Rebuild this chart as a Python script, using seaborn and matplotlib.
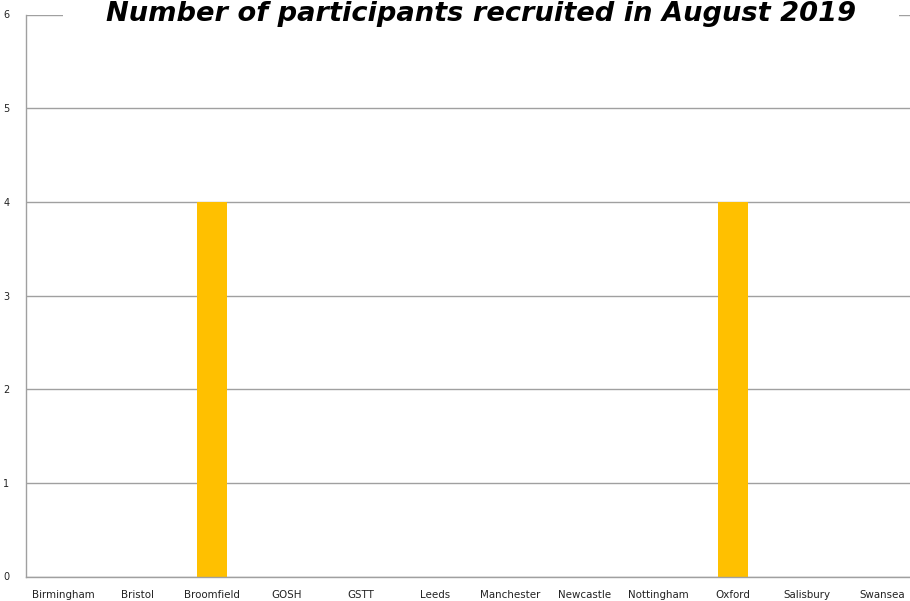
import matplotlib
matplotlib.use("Agg")
import matplotlib.pyplot as plt
import seaborn as sns
import pandas as pd

sites = ["Birmingham", "Bristol", "Broomfield", "GOSH", "GSTT", "Leeds",
         "Manchester", "Newcastle", "Nottingham", "Oxford", "Salisbury", "Swansea"]
participants = [0, 0, 4, 0, 0, 0, 0, 0, 0, 4, 0, 0]
title = "Number of participants recruited in August 2019"

sns.set_style("white")
plt.rcParams['font.family'] = ['DejaVu Sans']

df = pd.DataFrame({"site": sites, "n": participants})

fig = plt.figure(figsize=(9.10, 6.01), dpi=100)
ax = fig.add_axes([26/910, (601-576.5)/601, (919-26)/910, (576.5-14.5)/601])
sns.barplot(data=df, x="site", y="n", color="#FFC000", width=0.4, ax=ax,
            saturation=1, order=sites, edgecolor="none", linewidth=0)

ax.set_ylim(0, 6)
ax.set_xlim(-0.5, len(sites) - 0.5)
ax.set_yticks(range(0, 7))
ax.yaxis.grid(True, color="#a0a0a0", linewidth=1)
ax.set_axisbelow(True)
for s in ["top", "right"]:
    ax.spines[s].set_visible(False)
for s in ["left", "bottom"]:
    ax.spines[s].set_color("#a0a0a0")
    ax.spines[s].set_linewidth(1)

ax.set_xticks([i - 0.5 for i in range(len(sites) + 1)])
ax.set_xticklabels([])
ax.set_xticks(range(len(sites)), minor=True)
ax.set_xticklabels(sites, minor=True, fontsize=7.4, color="#222222")
ax.tick_params(axis="x", which="major", length=4, color="#a0a0a0", direction="out")
ax.tick_params(axis="x", which="minor", length=0, pad=10)
ax.tick_params(axis="y", length=4, color="#a0a0a0", direction="out", labelsize=7,
               labelcolor="#222222", pad=8)
ax.set_xlabel("")
ax.set_ylabel("")

fig.text(481/910, 1 - 14/601, title, ha="center", va="center", fontsize=19.6,
         fontweight="bold", fontstyle="italic", color="black",
         bbox=dict(facecolor="white", edgecolor="none", pad=31))

fig.savefig("out.png", dpi=100)
